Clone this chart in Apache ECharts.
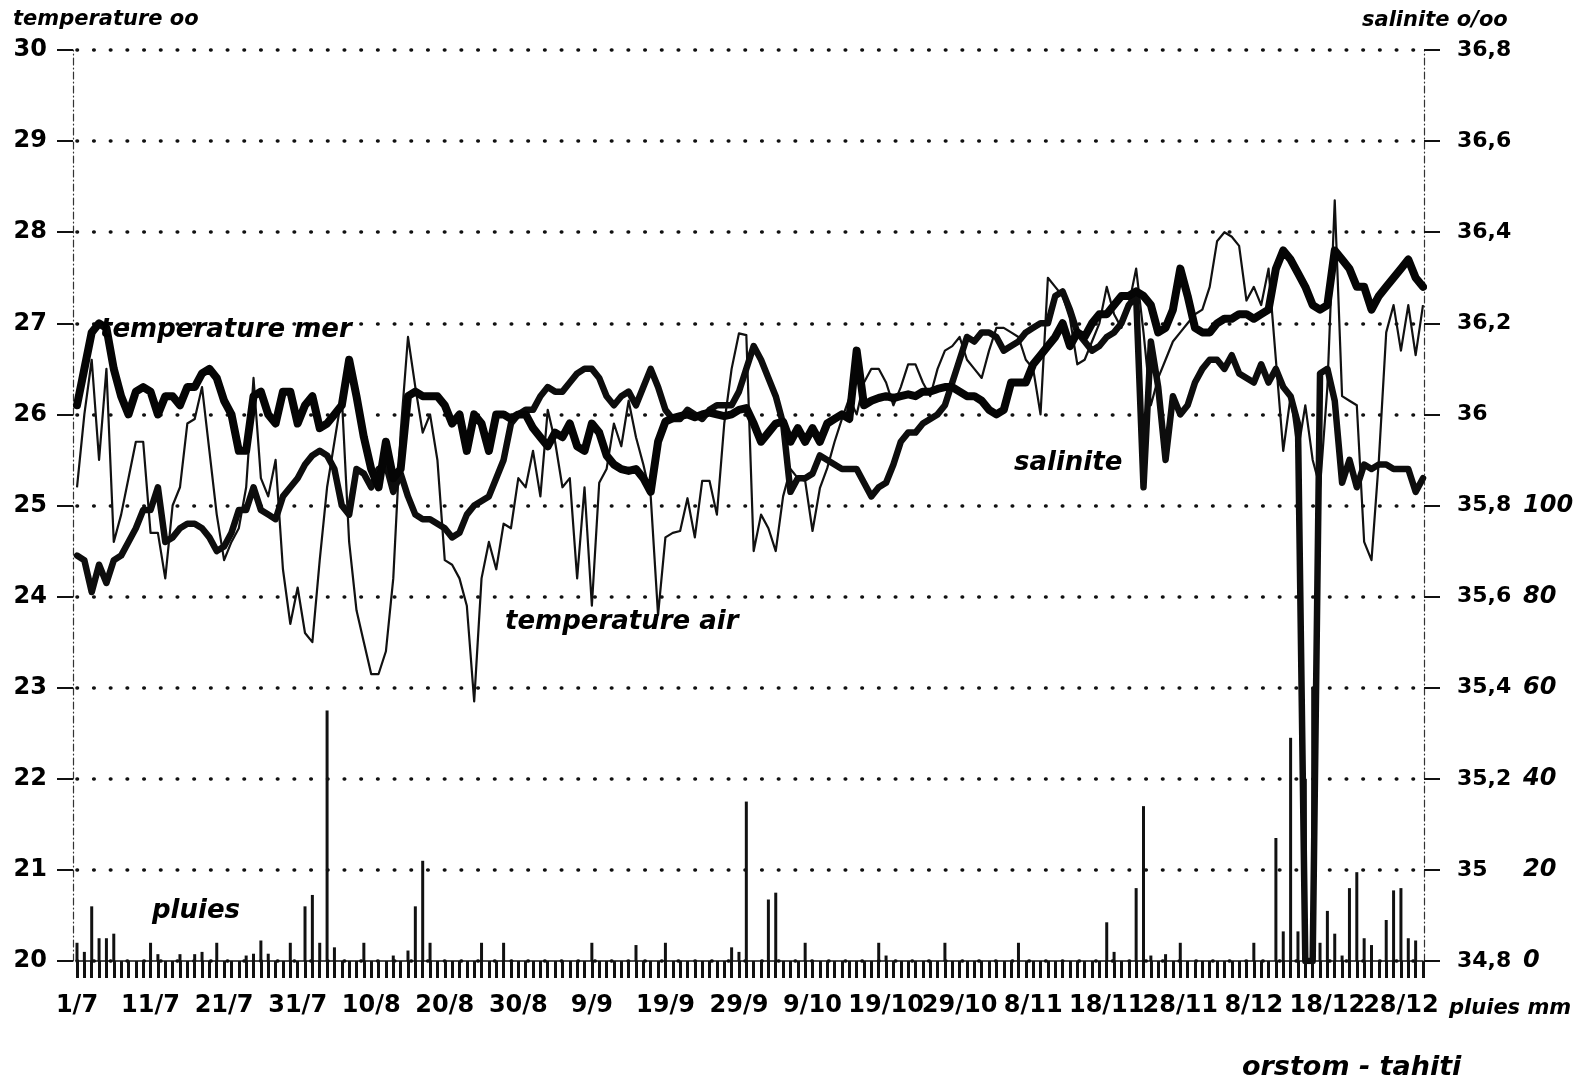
<!DOCTYPE html>
<html><head><meta charset="utf-8">
<script src="https://cdn.jsdelivr.net/npm/echarts/dist/echarts.min.js"></script>
<style>html,body{margin:0;padding:0;background:#fff}#c{width:1593px;height:1086px}</style>
</head><body><div id="c"></div>
<script>
// day categories 1/7 .. 31/12
const monthLengths = [[7,31],[8,31],[9,30],[10,31],[11,30],[12,31]];
const days = [];
monthLengths.forEach(function(p){ for (let i=1;i<=p[1];i++) days.push(i+'/'+p[0]); });

// temperature mer (deg C)
const tempMer = [
26.1,26.5,26.9,27.0,26.95,26.5,26.2,26.0,26.25,26.3,
26.25,26.0,26.2,26.2,26.1,26.3,26.3,26.45,26.5,26.4,
26.15,26.0,25.6,25.6,26.2,26.25,26.0,25.9,26.25,26.25,
25.9,26.1,26.2,25.85,25.9,26.0,26.1,26.6,26.2,25.75,
25.4,25.2,25.7,25.3,25.4,26.2,26.25,26.2,26.2,26.2,
26.1,25.9,26.0,25.6,26.0,25.9,25.6,26.0,26.0,25.95,
26.0,26.0,25.85,25.75,25.65,25.8,25.75,25.9,25.65,25.6,
25.9,25.8,25.55,25.45,25.4,25.38,25.4,25.3,25.15,25.7,
25.92,25.96,25.98,26.0,25.97,26.0,26.02,26.0,25.98,26.0,
26.05,26.07,25.9,25.7,25.8,25.9,25.92,25.7,25.85,25.7,
25.85,25.7,25.9,25.95,26.0,25.95,26.7,26.1,26.15,26.18,
26.2,26.18,26.2,26.22,26.2,26.25,26.25,26.28,26.3,26.3,
26.25,26.2,26.2,26.15,26.05,26.0,26.05,26.35,26.35,26.35,
26.55,26.65,26.75,26.85,27.0,26.75,26.9,26.85,27.0,27.1,
27.1,27.2,27.3,27.3,27.35,27.3,27.2,26.9,26.95,27.15,
27.6,27.3,26.95,26.9,26.9,27.0,27.05,27.05,27.1,27.1,
27.05,27.1,27.15,27.6,27.8,27.7,27.55,27.4,27.2,27.15,
27.2,27.8,27.7,27.6,27.4,27.4,27.15,27.3,27.4,27.5,
27.6,27.7,27.5,27.4
];
// temperature air (deg C)
const tempAir = [
25.2,26.0,26.6,25.5,26.5,24.6,24.9,25.3,25.7,25.7,
24.7,24.7,24.2,25.0,25.2,25.9,25.95,26.3,25.6,24.9,
24.4,24.6,24.75,25.2,26.4,25.3,25.1,25.5,24.3,23.7,
24.1,23.6,23.5,24.4,25.2,25.7,26.2,24.6,23.85,23.5,
23.15,23.15,23.4,24.2,25.8,26.85,26.3,25.8,26.0,25.5,
24.4,24.35,24.2,23.9,22.85,24.2,24.6,24.3,24.8,24.75,
25.3,25.2,25.6,25.1,26.05,25.7,25.2,25.3,24.2,25.2,
23.9,25.25,25.4,25.9,25.65,26.15,25.75,25.45,25.1,23.8,
24.65,24.7,24.72,25.08,24.65,25.27,25.27,24.9,25.9,26.5,
26.89,26.87,24.5,24.9,24.75,24.5,25.1,25.4,25.3,25.27,
24.72,25.19,25.41,25.7,25.95,26.18,26.0,26.35,26.5,26.5,
26.35,26.1,26.3,26.55,26.55,26.35,26.2,26.5,26.7,26.75,
26.85,26.6,26.5,26.4,26.7,26.95,26.95,26.9,26.85,26.6,
26.5,26.0,27.5,27.4,27.3,27.05,26.55,26.6,26.8,27.0,
27.4,27.1,26.95,27.2,27.6,26.9,26.1,26.4,26.6,26.8,
26.9,27.0,27.1,27.15,27.4,27.9,28.0,27.95,27.85,27.25,
27.4,27.2,27.6,26.6,25.6,26.2,25.6,26.1,25.5,25.2,
26.3,28.35,26.2,26.15,26.1,24.6,24.4,25.5,26.9,27.2,
26.7,27.2,26.65,27.2
];
// salinite (o/oo)
const salinite = [
35.69,35.68,35.61,35.67,35.63,35.68,35.69,35.72,35.75,35.79,
35.79,35.84,35.72,35.73,35.75,35.76,35.76,35.75,35.73,35.70,
35.71,35.74,35.79,35.79,35.84,35.79,35.78,35.77,35.82,35.84,
35.86,35.89,35.91,35.92,35.91,35.88,35.80,35.78,35.88,35.87,
35.84,35.88,35.89,35.83,35.87,35.82,35.78,35.77,35.77,35.76,
35.75,35.73,35.74,35.78,35.80,35.81,35.82,35.86,35.90,35.98,
36.00,36.01,36.01,36.04,36.06,36.05,36.05,36.07,36.09,36.10,
36.10,36.08,36.04,36.02,36.04,36.05,36.02,36.06,36.10,36.06,
36.01,35.99,35.99,36.01,36.00,35.99,36.01,36.02,36.02,36.02,
36.05,36.10,36.15,36.12,36.08,36.04,35.98,35.83,35.86,35.86,
35.87,35.91,35.90,35.89,35.88,35.88,35.88,35.85,35.82,35.84,
35.85,35.89,35.94,35.96,35.96,35.98,35.99,36.00,36.02,36.07,
36.12,36.17,36.16,36.18,36.18,36.17,36.14,36.15,36.16,36.18,
36.19,36.20,36.20,36.26,36.27,36.23,36.18,36.16,36.14,36.15,
36.17,36.18,36.20,36.24,36.26,35.84,36.16,36.06,35.90,36.04,
36.00,36.02,36.07,36.10,36.12,36.12,36.10,36.13,36.09,36.08,
36.07,36.11,36.07,36.10,36.06,36.04,35.98,34.80,34.80,36.09,
36.10,36.03,35.85,35.90,35.84,35.89,35.88,35.89,35.89,35.88,
35.88,35.88,35.83,35.86
];
// pluies (mm): day index and amount
const rainDays = [0,1,2,3,4,5,10,11,14,16,17,19,23,24,25,26,29,31,32,33,34,35,39,43,45,46,47,48,55,58,70,76,80,89,90,91,94,95,99,109,110,118,128,140,141,144,145,146,148,150,160,163,164,165,166,167,168,169,170,171,172,173,174,175,176,178,179,180,181,182];
const rainMm = [4,2,12,5,5,6,4,1.5,1.5,1.5,2,4,1.2,1.6,4.5,1.6,4,12,14.5,4,55,3,4,1.2,2.3,12,22,4,4,4,4,3.5,4,3,2,35,13.5,15,4,4,1.2,4,4,8.5,2,16,34,1.2,1.5,4,4,27,6.5,49,6.5,40,60,4,11,6,1.2,16,19.5,5,3.5,9,15.5,16,5,4.5];
const xTickLabels = ['1/7','11/7','21/7','31/7','10/8','20/8','30/8','9/9','19/9','29/9','9/10','19/10','29/10','8/11','18/11','28/11','8/12','18/12','28/12'];

const rain = days.map(function(){ return 0; });
rainDays.forEach(function(d,i){ rain[d] = rainMm[i]; });

const FF = "'DejaVu Sans', sans-serif";
const dotted = {color:'#111', width:3.6, type:[0.5,16.2], cap:'round'};
const dashAxis = {color:'#333', width:1.2, type:[7,3,1,3]};

const chart = echarts.init(document.getElementById('c'), null, {renderer:'canvas'});
chart.setOption({
  animation:false,
  backgroundColor:'#fff',
  grid:{left:77, right:170, top:50, bottom:125},
  xAxis:{
    type:'category', data:days, boundaryGap:false,
    axisLine:{show:true, lineStyle:{color:'#111', width:1.5}},
    axisTick:{show:true, interval:0, length:17, lineStyle:{color:'#111', width:3}},
    axisLabel:{interval:0, margin:33, color:'#000', fontFamily:FF, fontWeight:'bold', fontSize:24,
      formatter:function(v){ return xTickLabels.indexOf(v) >= 0 && days.indexOf(v) % 10 === 0 ? v : ''; }},
    splitLine:{show:false}
  },
  yAxis:[
    {type:'value', min:20, max:30, interval:1, position:'left', offset:4,
     axisLine:{show:true, lineStyle:dashAxis},
     axisTick:{show:true, length:16, lineStyle:{color:'#111', width:2}},
     axisLabel:{margin:26, color:'#000', fontFamily:FF, fontWeight:'bold', fontSize:24},
     splitLine:{show:true, lineStyle:dotted}},
    {type:'value', min:34.8, max:36.8, interval:0.2, position:'right', offset:1,
     axisLine:{show:true, lineStyle:dashAxis},
     axisTick:{show:true, length:16, lineStyle:{color:'#111', width:2}},
     axisLabel:{margin:33, color:'#000', fontFamily:FF, fontWeight:'bold', fontSize:22,
       formatter:function(v){ return String(Math.round(v*10)/10).replace('.', ','); }},
     splitLine:{show:false}},
    {type:'value', min:0, max:200, interval:20, position:'right', offset:94,
     axisLine:{show:false}, axisTick:{show:false},
     axisLabel:{margin:6, color:'#000', fontFamily:FF, fontWeight:'bold', fontStyle:'italic', fontSize:24,
       formatter:function(v){ return v <= 100 ? String(v) : ''; }},
     splitLine:{show:false}}
  ],
  series:[
    {name:'pluies', type:'bar', yAxisIndex:2, data:rain, barWidth:3, itemStyle:{color:'#111'}, z:1},
    {name:'temperature air', type:'line', yAxisIndex:0, data:tempAir, symbol:'none',
     lineStyle:{color:'#111', width:2.2, join:'round'}, z:3},
    {name:'salinite', type:'line', yAxisIndex:1, data:salinite, symbol:'none',
     lineStyle:{color:'#0d0d0d', width:6.5, join:'round', cap:'round'}, z:4},
    {name:'temperature mer', type:'line', yAxisIndex:0, data:tempMer, symbol:'none',
     lineStyle:{color:'#050505', width:8, join:'round', cap:'round'}, z:5}
  ],
  graphic:[
    {type:'text', left:13, top:9, style:{text:'temperature oo', font:'italic bold 21px '+FF, fill:'#000'}},
    {type:'text', left:1362, top:10, style:{text:'salinite o/oo', font:'italic bold 21px '+FF, fill:'#000'}},
    {type:'text', left:100, top:317, z:10, style:{text:'temperature mer', font:'italic bold 26px '+FF, fill:'#000'}},
    {type:'text', left:505, top:609, z:10, style:{text:'temperature air', font:'italic bold 26px '+FF, fill:'#000'}},
    {type:'text', left:1014, top:450, z:10, style:{text:'salinite', font:'italic bold 26px '+FF, fill:'#000'}},
    {type:'text', left:152, top:898, z:10, style:{text:'pluies', font:'italic bold 26px '+FF, fill:'#000'}},
    {type:'text', left:1449, top:998, style:{text:'pluies mm', font:'italic bold 21px '+FF, fill:'#000'}},
    {type:'text', left:1242, top:1054, style:{text:'orstom - tahiti', font:'italic bold 27px '+FF, fill:'#000'}}
  ]
});
</script>
</body></html>
